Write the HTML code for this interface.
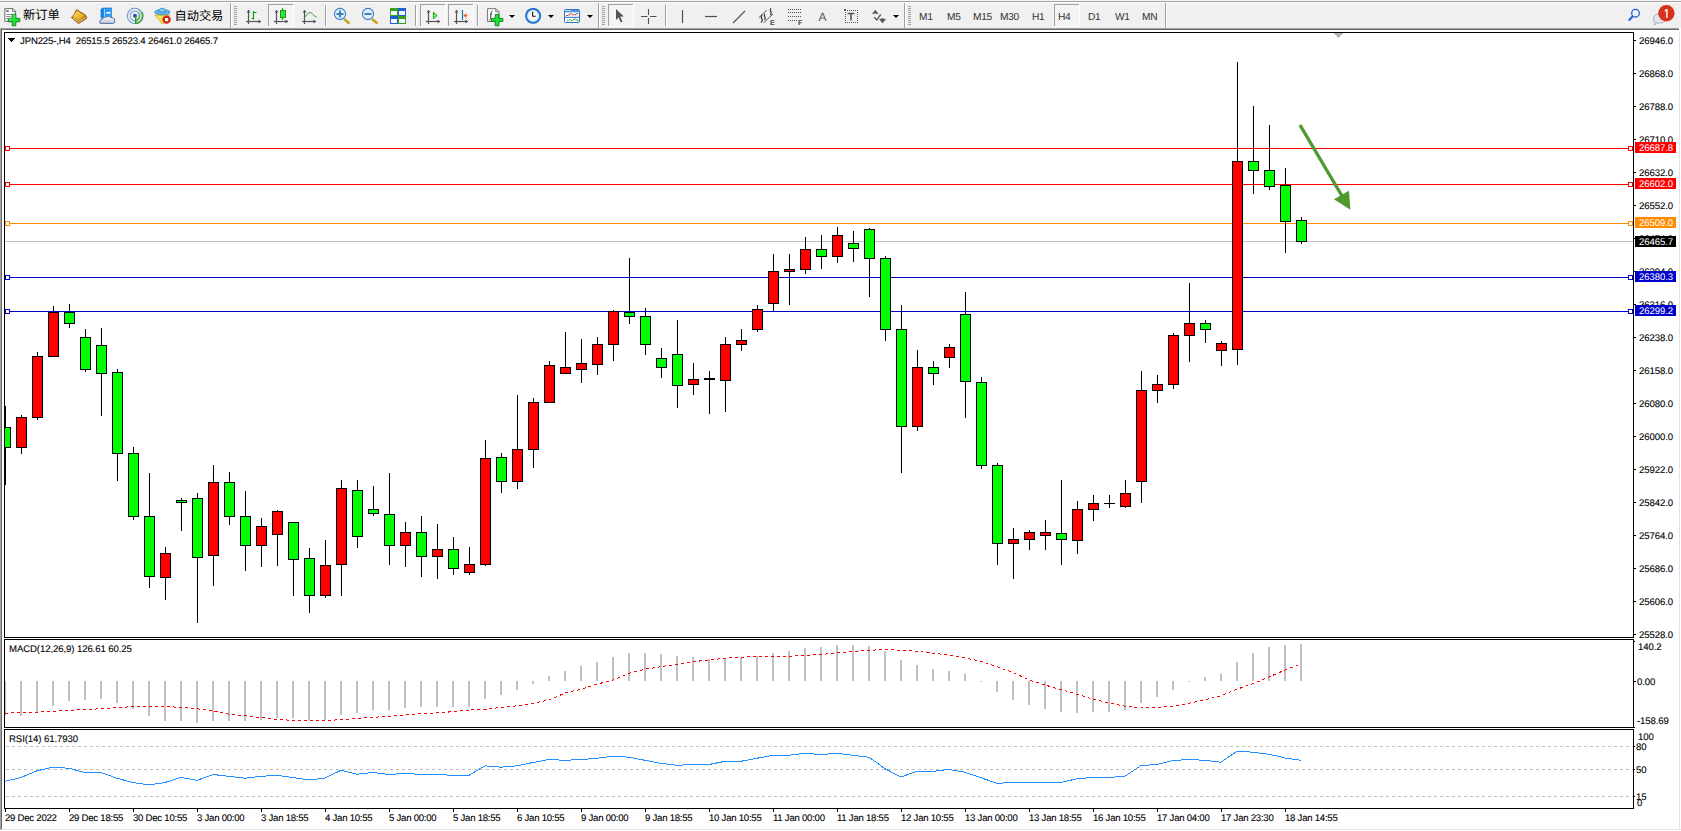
<!DOCTYPE html>
<html><head><meta charset="utf-8"><title>MT4 JPN225 H4</title>
<style>
html,body{margin:0;padding:0;}
body{width:1681px;height:831px;overflow:hidden;background:#fff;position:relative;font-family:"Liberation Sans", "Noto Sans CJK SC", sans-serif;}
svg{position:absolute;left:0;top:0;display:block;}
svg text{font-family:"Liberation Sans", "Noto Sans CJK SC", sans-serif;font-size:9.6px;letter-spacing:-0.1px;text-rendering:geometricPrecision;}
.dt{letter-spacing:-0.25px;}
.tx text{fill:#000;stroke:#000;stroke-width:0.1px;}
</style></head><body>
<div style="position:absolute;left:0;top:0;width:1681px;height:831px;background:#fff"></div>
<div style="position:absolute;left:0;top:829px;width:1681px;height:1px;background:#e3e3e3"></div>
<div style="position:absolute;left:1679px;top:30px;width:1px;height:800px;background:#e3e3e3"></div>
<svg class="ch" width="1681" height="831" viewBox="0 0 1681 831" shape-rendering="crispEdges"><rect x="4.5" y="32.5" width="1629" height="605" fill="#fff" stroke="#000"/><rect x="4.5" y="639.5" width="1629" height="88" fill="#fff" stroke="#000"/><rect x="4.5" y="729.5" width="1629" height="79" fill="#fff" stroke="#000"/><defs><clipPath id="cm"><rect x="5" y="33" width="1628" height="604"/></clipPath><clipPath id="cd"><rect x="5" y="640" width="1628" height="87"/></clipPath><clipPath id="cr"><rect x="5" y="730" width="1628" height="78"/></clipPath></defs><g clip-path="url(#cm)"><line x1="5" y1="241.5" x2="1633" y2="241.5" stroke="#c0c0c0"/><line x1="5" y1="148.5" x2="1633" y2="148.5" stroke="#ff0000"/><rect x="5.5" y="146.5" width="4" height="4" fill="#fff" stroke="#ff0000"/><rect x="1628.5" y="146.5" width="4" height="4" fill="#fff" stroke="#ff0000"/><line x1="5" y1="184.5" x2="1633" y2="184.5" stroke="#ff0000"/><rect x="5.5" y="182.5" width="4" height="4" fill="#fff" stroke="#ff0000"/><rect x="1628.5" y="182.5" width="4" height="4" fill="#fff" stroke="#ff0000"/><line x1="5" y1="223.5" x2="1633" y2="223.5" stroke="#ff8c00"/><rect x="5.5" y="221.5" width="4" height="4" fill="#fff" stroke="#ff8c00"/><rect x="1628.5" y="221.5" width="4" height="4" fill="#fff" stroke="#ff8c00"/><line x1="5" y1="277.5" x2="1633" y2="277.5" stroke="#0000cd"/><rect x="5.5" y="275.5" width="4" height="4" fill="#fff" stroke="#0000cd"/><rect x="1628.5" y="275.5" width="4" height="4" fill="#fff" stroke="#0000cd"/><line x1="5" y1="311.5" x2="1633" y2="311.5" stroke="#0000cd"/><rect x="5.5" y="309.5" width="4" height="4" fill="#fff" stroke="#0000cd"/><rect x="1628.5" y="309.5" width="4" height="4" fill="#fff" stroke="#0000cd"/><line x1="5.5" y1="406" x2="5.5" y2="485" stroke="#000"/><rect x="0.5" y="427.5" width="10" height="20" fill="#00ff00" stroke="#000"/><line x1="21.5" y1="415" x2="21.5" y2="454" stroke="#000"/><rect x="16.5" y="417.5" width="10" height="30" fill="#ff0000" stroke="#000"/><line x1="37.5" y1="352" x2="37.5" y2="420" stroke="#000"/><rect x="32.5" y="356.5" width="10" height="61" fill="#ff0000" stroke="#000"/><line x1="53.5" y1="306" x2="53.5" y2="357" stroke="#000"/><rect x="48.5" y="312.5" width="10" height="44" fill="#ff0000" stroke="#000"/><line x1="69.5" y1="304" x2="69.5" y2="328" stroke="#000"/><rect x="64.5" y="312.5" width="10" height="11" fill="#00ff00" stroke="#000"/><line x1="85.5" y1="329" x2="85.5" y2="372" stroke="#000"/><rect x="80.5" y="337.5" width="10" height="32" fill="#00ff00" stroke="#000"/><line x1="101.5" y1="328" x2="101.5" y2="416" stroke="#000"/><rect x="96.5" y="345.5" width="10" height="28" fill="#00ff00" stroke="#000"/><line x1="117.5" y1="369" x2="117.5" y2="481" stroke="#000"/><rect x="112.5" y="372.5" width="10" height="81" fill="#00ff00" stroke="#000"/><line x1="133.5" y1="447" x2="133.5" y2="520" stroke="#000"/><rect x="128.5" y="453.5" width="10" height="63" fill="#00ff00" stroke="#000"/><line x1="149.5" y1="473" x2="149.5" y2="588" stroke="#000"/><rect x="144.5" y="516.5" width="10" height="60" fill="#00ff00" stroke="#000"/><line x1="165.5" y1="547" x2="165.5" y2="600" stroke="#000"/><rect x="160.5" y="553.5" width="10" height="24" fill="#ff0000" stroke="#000"/><line x1="181.5" y1="498" x2="181.5" y2="531" stroke="#000"/><rect x="176.5" y="500.5" width="10" height="2" fill="#00ff00" stroke="#000"/><line x1="197.5" y1="493" x2="197.5" y2="623" stroke="#000"/><rect x="192.5" y="498.5" width="10" height="59" fill="#00ff00" stroke="#000"/><line x1="213.5" y1="465" x2="213.5" y2="586" stroke="#000"/><rect x="208.5" y="482.5" width="10" height="73" fill="#ff0000" stroke="#000"/><line x1="229.5" y1="472" x2="229.5" y2="525" stroke="#000"/><rect x="224.5" y="482.5" width="10" height="34" fill="#00ff00" stroke="#000"/><line x1="245.5" y1="491" x2="245.5" y2="571" stroke="#000"/><rect x="240.5" y="516.5" width="10" height="29" fill="#00ff00" stroke="#000"/><line x1="261.5" y1="518" x2="261.5" y2="567" stroke="#000"/><rect x="256.5" y="526.5" width="10" height="19" fill="#ff0000" stroke="#000"/><line x1="277.5" y1="510" x2="277.5" y2="566" stroke="#000"/><rect x="272.5" y="511.5" width="10" height="23" fill="#ff0000" stroke="#000"/><line x1="293.5" y1="522" x2="293.5" y2="596" stroke="#000"/><rect x="288.5" y="522.5" width="10" height="37" fill="#00ff00" stroke="#000"/><line x1="309.5" y1="548" x2="309.5" y2="613" stroke="#000"/><rect x="304.5" y="558.5" width="10" height="37" fill="#00ff00" stroke="#000"/><line x1="325.5" y1="540" x2="325.5" y2="598" stroke="#000"/><rect x="320.5" y="565.5" width="10" height="30" fill="#ff0000" stroke="#000"/><line x1="341.5" y1="480" x2="341.5" y2="596" stroke="#000"/><rect x="336.5" y="488.5" width="10" height="76" fill="#ff0000" stroke="#000"/><line x1="357.5" y1="480" x2="357.5" y2="548" stroke="#000"/><rect x="352.5" y="490.5" width="10" height="46" fill="#00ff00" stroke="#000"/><line x1="373.5" y1="486" x2="373.5" y2="516" stroke="#000"/><rect x="368.5" y="509.5" width="10" height="4" fill="#00ff00" stroke="#000"/><line x1="389.5" y1="473" x2="389.5" y2="565" stroke="#000"/><rect x="384.5" y="514.5" width="10" height="31" fill="#00ff00" stroke="#000"/><line x1="405.5" y1="522" x2="405.5" y2="567" stroke="#000"/><rect x="400.5" y="532.5" width="10" height="13" fill="#ff0000" stroke="#000"/><line x1="421.5" y1="516" x2="421.5" y2="577" stroke="#000"/><rect x="416.5" y="532.5" width="10" height="24" fill="#00ff00" stroke="#000"/><line x1="437.5" y1="524" x2="437.5" y2="579" stroke="#000"/><rect x="432.5" y="549.5" width="10" height="7" fill="#ff0000" stroke="#000"/><line x1="453.5" y1="537" x2="453.5" y2="575" stroke="#000"/><rect x="448.5" y="549.5" width="10" height="19" fill="#00ff00" stroke="#000"/><line x1="469.5" y1="547" x2="469.5" y2="575" stroke="#000"/><rect x="464.5" y="564.5" width="10" height="8" fill="#ff0000" stroke="#000"/><line x1="485.5" y1="440" x2="485.5" y2="566" stroke="#000"/><rect x="480.5" y="458.5" width="10" height="106" fill="#ff0000" stroke="#000"/><line x1="501.5" y1="453" x2="501.5" y2="493" stroke="#000"/><rect x="496.5" y="457.5" width="10" height="24" fill="#00ff00" stroke="#000"/><line x1="517.5" y1="395" x2="517.5" y2="489" stroke="#000"/><rect x="512.5" y="449.5" width="10" height="32" fill="#ff0000" stroke="#000"/><line x1="533.5" y1="398" x2="533.5" y2="468" stroke="#000"/><rect x="528.5" y="402.5" width="10" height="47" fill="#ff0000" stroke="#000"/><line x1="549.5" y1="361" x2="549.5" y2="403" stroke="#000"/><rect x="544.5" y="365.5" width="10" height="37" fill="#ff0000" stroke="#000"/><line x1="565.5" y1="332" x2="565.5" y2="374" stroke="#000"/><rect x="560.5" y="367.5" width="10" height="6" fill="#ff0000" stroke="#000"/><line x1="581.5" y1="339" x2="581.5" y2="383" stroke="#000"/><rect x="576.5" y="363.5" width="10" height="6" fill="#ff0000" stroke="#000"/><line x1="597.5" y1="337" x2="597.5" y2="375" stroke="#000"/><rect x="592.5" y="344.5" width="10" height="20" fill="#ff0000" stroke="#000"/><line x1="613.5" y1="310" x2="613.5" y2="361" stroke="#000"/><rect x="608.5" y="311.5" width="10" height="33" fill="#ff0000" stroke="#000"/><line x1="629.5" y1="258" x2="629.5" y2="324" stroke="#000"/><rect x="624.5" y="312.5" width="10" height="4" fill="#00ff00" stroke="#000"/><line x1="645.5" y1="308" x2="645.5" y2="355" stroke="#000"/><rect x="640.5" y="316.5" width="10" height="28" fill="#00ff00" stroke="#000"/><line x1="661.5" y1="348" x2="661.5" y2="378" stroke="#000"/><rect x="656.5" y="358.5" width="10" height="9" fill="#00ff00" stroke="#000"/><line x1="677.5" y1="320" x2="677.5" y2="408" stroke="#000"/><rect x="672.5" y="354.5" width="10" height="31" fill="#00ff00" stroke="#000"/><line x1="693.5" y1="363" x2="693.5" y2="395" stroke="#000"/><rect x="688.5" y="379.5" width="10" height="5" fill="#ff0000" stroke="#000"/><line x1="709.5" y1="371" x2="709.5" y2="414" stroke="#000"/><rect x="704.5" y="378.5" width="10" height="1" fill="none" stroke="#000"/><line x1="725.5" y1="337" x2="725.5" y2="412" stroke="#000"/><rect x="720.5" y="344.5" width="10" height="36" fill="#ff0000" stroke="#000"/><line x1="741.5" y1="329" x2="741.5" y2="351" stroke="#000"/><rect x="736.5" y="340.5" width="10" height="4" fill="#ff0000" stroke="#000"/><line x1="757.5" y1="305" x2="757.5" y2="332" stroke="#000"/><rect x="752.5" y="309.5" width="10" height="20" fill="#ff0000" stroke="#000"/><line x1="773.5" y1="254" x2="773.5" y2="311" stroke="#000"/><rect x="768.5" y="271.5" width="10" height="32" fill="#ff0000" stroke="#000"/><line x1="789.5" y1="254" x2="789.5" y2="305" stroke="#000"/><rect x="784.5" y="269.5" width="10" height="2" fill="#ff0000" stroke="#000"/><line x1="805.5" y1="237" x2="805.5" y2="274" stroke="#000"/><rect x="800.5" y="249.5" width="10" height="20" fill="#ff0000" stroke="#000"/><line x1="821.5" y1="235" x2="821.5" y2="269" stroke="#000"/><rect x="816.5" y="249.5" width="10" height="7" fill="#00ff00" stroke="#000"/><line x1="837.5" y1="227" x2="837.5" y2="263" stroke="#000"/><rect x="832.5" y="235.5" width="10" height="21" fill="#ff0000" stroke="#000"/><line x1="853.5" y1="231" x2="853.5" y2="262" stroke="#000"/><rect x="848.5" y="243.5" width="10" height="5" fill="#00ff00" stroke="#000"/><line x1="869.5" y1="228" x2="869.5" y2="297" stroke="#000"/><rect x="864.5" y="229.5" width="10" height="29" fill="#00ff00" stroke="#000"/><line x1="885.5" y1="256" x2="885.5" y2="341" stroke="#000"/><rect x="880.5" y="258.5" width="10" height="71" fill="#00ff00" stroke="#000"/><line x1="901.5" y1="305" x2="901.5" y2="473" stroke="#000"/><rect x="896.5" y="329.5" width="10" height="97" fill="#00ff00" stroke="#000"/><line x1="917.5" y1="350" x2="917.5" y2="431" stroke="#000"/><rect x="912.5" y="367.5" width="10" height="59" fill="#ff0000" stroke="#000"/><line x1="933.5" y1="361" x2="933.5" y2="385" stroke="#000"/><rect x="928.5" y="367.5" width="10" height="6" fill="#00ff00" stroke="#000"/><line x1="949.5" y1="344" x2="949.5" y2="368" stroke="#000"/><rect x="944.5" y="347.5" width="10" height="10" fill="#ff0000" stroke="#000"/><line x1="965.5" y1="292" x2="965.5" y2="418" stroke="#000"/><rect x="960.5" y="314.5" width="10" height="67" fill="#00ff00" stroke="#000"/><line x1="981.5" y1="377" x2="981.5" y2="469" stroke="#000"/><rect x="976.5" y="382.5" width="10" height="83" fill="#00ff00" stroke="#000"/><line x1="997.5" y1="463" x2="997.5" y2="565" stroke="#000"/><rect x="992.5" y="465.5" width="10" height="78" fill="#00ff00" stroke="#000"/><line x1="1013.5" y1="528" x2="1013.5" y2="579" stroke="#000"/><rect x="1008.5" y="539.5" width="10" height="4" fill="#ff0000" stroke="#000"/><line x1="1029.5" y1="530" x2="1029.5" y2="550" stroke="#000"/><rect x="1024.5" y="532.5" width="10" height="7" fill="#ff0000" stroke="#000"/><line x1="1045.5" y1="520" x2="1045.5" y2="550" stroke="#000"/><rect x="1040.5" y="532.5" width="10" height="3" fill="#ff0000" stroke="#000"/><line x1="1061.5" y1="480" x2="1061.5" y2="565" stroke="#000"/><rect x="1056.5" y="533.5" width="10" height="6" fill="#00ff00" stroke="#000"/><line x1="1077.5" y1="501" x2="1077.5" y2="554" stroke="#000"/><rect x="1072.5" y="509.5" width="10" height="31" fill="#ff0000" stroke="#000"/><line x1="1093.5" y1="495" x2="1093.5" y2="521" stroke="#000"/><rect x="1088.5" y="503.5" width="10" height="6" fill="#ff0000" stroke="#000"/><line x1="1109.5" y1="495" x2="1109.5" y2="508" stroke="#000"/><line x1="1104" y1="503.5" x2="1115" y2="503.5" stroke="#000"/><line x1="1125.5" y1="480" x2="1125.5" y2="508" stroke="#000"/><rect x="1120.5" y="493.5" width="10" height="13" fill="#ff0000" stroke="#000"/><line x1="1141.5" y1="371" x2="1141.5" y2="503" stroke="#000"/><rect x="1136.5" y="390.5" width="10" height="91" fill="#ff0000" stroke="#000"/><line x1="1157.5" y1="375" x2="1157.5" y2="403" stroke="#000"/><rect x="1152.5" y="384.5" width="10" height="6" fill="#ff0000" stroke="#000"/><line x1="1173.5" y1="333" x2="1173.5" y2="389" stroke="#000"/><rect x="1168.5" y="335.5" width="10" height="49" fill="#ff0000" stroke="#000"/><line x1="1189.5" y1="283" x2="1189.5" y2="362" stroke="#000"/><rect x="1184.5" y="323.5" width="10" height="12" fill="#ff0000" stroke="#000"/><line x1="1205.5" y1="320" x2="1205.5" y2="343" stroke="#000"/><rect x="1200.5" y="323.5" width="10" height="6" fill="#00ff00" stroke="#000"/><line x1="1221.5" y1="341" x2="1221.5" y2="366" stroke="#000"/><rect x="1216.5" y="343.5" width="10" height="7" fill="#ff0000" stroke="#000"/><line x1="1237.5" y1="62" x2="1237.5" y2="365" stroke="#000"/><rect x="1232.5" y="161.5" width="10" height="188" fill="#ff0000" stroke="#000"/><line x1="1253.5" y1="106" x2="1253.5" y2="194" stroke="#000"/><rect x="1248.5" y="161.5" width="10" height="9" fill="#00ff00" stroke="#000"/><line x1="1269.5" y1="125" x2="1269.5" y2="190" stroke="#000"/><rect x="1264.5" y="170.5" width="10" height="16" fill="#00ff00" stroke="#000"/><line x1="1285.5" y1="168" x2="1285.5" y2="253" stroke="#000"/><rect x="1280.5" y="185.5" width="10" height="36" fill="#00ff00" stroke="#000"/><line x1="1301.5" y1="217" x2="1301.5" y2="244" stroke="#000"/><rect x="1296.5" y="220.5" width="10" height="21" fill="#00ff00" stroke="#000"/></g><polygon points="1334,33 1343,33 1338.5,38" fill="#b4b4b4"/><line x1="1300" y1="125" x2="1342" y2="196" stroke="#4f9a2f" stroke-width="3.4" shape-rendering="geometricPrecision"/><polygon points="1333.9,199.2 1349,190.8 1350.4,209.8" fill="#4f9a2f" shape-rendering="geometricPrecision"/><g clip-path="url(#cd)"><rect x="4" y="681" width="2" height="34" fill="#c0c0c0"/><rect x="20" y="681" width="2" height="35" fill="#c0c0c0"/><rect x="36" y="681" width="2" height="31" fill="#c0c0c0"/><rect x="52" y="681" width="2" height="25" fill="#c0c0c0"/><rect x="68" y="681" width="2" height="20" fill="#c0c0c0"/><rect x="84" y="681" width="2" height="19" fill="#c0c0c0"/><rect x="100" y="681" width="2" height="18" fill="#c0c0c0"/><rect x="116" y="681" width="2" height="22" fill="#c0c0c0"/><rect x="132" y="681" width="2" height="28" fill="#c0c0c0"/><rect x="148" y="681" width="2" height="35" fill="#c0c0c0"/><rect x="164" y="681" width="2" height="40" fill="#c0c0c0"/><rect x="180" y="681" width="2" height="40" fill="#c0c0c0"/><rect x="196" y="681" width="2" height="42" fill="#c0c0c0"/><rect x="212" y="681" width="2" height="40" fill="#c0c0c0"/><rect x="228" y="681" width="2" height="40" fill="#c0c0c0"/><rect x="244" y="681" width="2" height="40" fill="#c0c0c0"/><rect x="260" y="681" width="2" height="39" fill="#c0c0c0"/><rect x="276" y="681" width="2" height="37" fill="#c0c0c0"/><rect x="292" y="681" width="2" height="37" fill="#c0c0c0"/><rect x="308" y="681" width="2" height="39" fill="#c0c0c0"/><rect x="324" y="681" width="2" height="39" fill="#c0c0c0"/><rect x="340" y="681" width="2" height="34" fill="#c0c0c0"/><rect x="356" y="681" width="2" height="32" fill="#c0c0c0"/><rect x="372" y="681" width="2" height="29" fill="#c0c0c0"/><rect x="388" y="681" width="2" height="29" fill="#c0c0c0"/><rect x="404" y="681" width="2" height="27" fill="#c0c0c0"/><rect x="420" y="681" width="2" height="26" fill="#c0c0c0"/><rect x="436" y="681" width="2" height="26" fill="#c0c0c0"/><rect x="452" y="681" width="2" height="26" fill="#c0c0c0"/><rect x="468" y="681" width="2" height="26" fill="#c0c0c0"/><rect x="484" y="681" width="2" height="18" fill="#c0c0c0"/><rect x="500" y="681" width="2" height="14" fill="#c0c0c0"/><rect x="516" y="681" width="2" height="9" fill="#c0c0c0"/><rect x="532" y="681" width="2" height="3" fill="#c0c0c0"/><rect x="548" y="676" width="2" height="5" fill="#c0c0c0"/><rect x="564" y="671" width="2" height="10" fill="#c0c0c0"/><rect x="580" y="666" width="2" height="15" fill="#c0c0c0"/><rect x="596" y="662" width="2" height="19" fill="#c0c0c0"/><rect x="612" y="657" width="2" height="24" fill="#c0c0c0"/><rect x="628" y="653" width="2" height="28" fill="#c0c0c0"/><rect x="644" y="653" width="2" height="28" fill="#c0c0c0"/><rect x="660" y="654" width="2" height="27" fill="#c0c0c0"/><rect x="676" y="656" width="2" height="25" fill="#c0c0c0"/><rect x="692" y="657" width="2" height="24" fill="#c0c0c0"/><rect x="708" y="659" width="2" height="22" fill="#c0c0c0"/><rect x="724" y="658" width="2" height="23" fill="#c0c0c0"/><rect x="740" y="658" width="2" height="23" fill="#c0c0c0"/><rect x="756" y="656" width="2" height="25" fill="#c0c0c0"/><rect x="772" y="653" width="2" height="28" fill="#c0c0c0"/><rect x="788" y="651" width="2" height="30" fill="#c0c0c0"/><rect x="804" y="648" width="2" height="33" fill="#c0c0c0"/><rect x="820" y="647" width="2" height="34" fill="#c0c0c0"/><rect x="836" y="645" width="2" height="36" fill="#c0c0c0"/><rect x="852" y="645" width="2" height="36" fill="#c0c0c0"/><rect x="868" y="646" width="2" height="35" fill="#c0c0c0"/><rect x="884" y="651" width="2" height="30" fill="#c0c0c0"/><rect x="900" y="660" width="2" height="21" fill="#c0c0c0"/><rect x="916" y="665" width="2" height="16" fill="#c0c0c0"/><rect x="932" y="669" width="2" height="12" fill="#c0c0c0"/><rect x="948" y="671" width="2" height="10" fill="#c0c0c0"/><rect x="964" y="674" width="2" height="7" fill="#c0c0c0"/><rect x="980" y="681" width="2" height="1" fill="#c0c0c0"/><rect x="996" y="681" width="2" height="11" fill="#c0c0c0"/><rect x="1012" y="681" width="2" height="19" fill="#c0c0c0"/><rect x="1028" y="681" width="2" height="24" fill="#c0c0c0"/><rect x="1044" y="681" width="2" height="28" fill="#c0c0c0"/><rect x="1060" y="681" width="2" height="31" fill="#c0c0c0"/><rect x="1076" y="681" width="2" height="32" fill="#c0c0c0"/><rect x="1092" y="681" width="2" height="31" fill="#c0c0c0"/><rect x="1108" y="681" width="2" height="31" fill="#c0c0c0"/><rect x="1124" y="681" width="2" height="29" fill="#c0c0c0"/><rect x="1140" y="681" width="2" height="22" fill="#c0c0c0"/><rect x="1156" y="681" width="2" height="16" fill="#c0c0c0"/><rect x="1172" y="681" width="2" height="9" fill="#c0c0c0"/><rect x="1188" y="681" width="2" height="1" fill="#c0c0c0"/><rect x="1204" y="677" width="2" height="4" fill="#c0c0c0"/><rect x="1220" y="674" width="2" height="7" fill="#c0c0c0"/><rect x="1236" y="662" width="2" height="19" fill="#c0c0c0"/><rect x="1252" y="653" width="2" height="28" fill="#c0c0c0"/><rect x="1268" y="647" width="2" height="34" fill="#c0c0c0"/><rect x="1284" y="645" width="2" height="36" fill="#c0c0c0"/><rect x="1300" y="644" width="2" height="37" fill="#c0c0c0"/><polyline points="5,713.3 21,712.5 37,712.2 53,711.3 69,710.3 85,709.7 101,708.7 117,707.5 133,706.7 149,706.3 165,706.3 181,707.5 197,708.7 213,710.8 229,714.2 245,715.8 261,717.5 277,719.5 293,720.3 309,720.5 325,720.5 341,719.7 357,718.3 373,717.3 389,716.3 405,715 421,713.8 437,712.8 453,711.7 469,710 485,709.2 501,707.5 517,705.8 533,703.3 549,700 565,693 581,689.2 597,684.2 613,680 629,673.3 645,669.2 661,666.7 677,664.2 693,661.7 709,660 725,658.3 741,657.2 757,656.3 773,656.3 789,656.3 805,655.5 821,654.5 837,653 853,651.7 869,650.3 885,649.5 901,650.3 917,651.3 933,653.3 949,655 965,658 981,661.3 997,666.7 1013,672.5 1029,680 1045,685 1061,689.7 1077,694.2 1093,699.2 1109,703 1125,706.3 1141,708 1157,707.5 1173,706.3 1189,703.3 1205,699.7 1221,695.8 1237,689.2 1253,683.7 1269,677 1285,670 1301,664" fill="none" stroke="#ff0000" stroke-width="1" stroke-dasharray="3 3" shape-rendering="crispEdges"/></g><g clip-path="url(#cr)"><line x1="6" y1="746.5" x2="1633" y2="746.5" stroke="#c0c0c0" stroke-dasharray="3 3"/><line x1="6" y1="769.5" x2="1633" y2="769.5" stroke="#c0c0c0" stroke-dasharray="3 3"/><line x1="6" y1="796.5" x2="1633" y2="796.5" stroke="#c0c0c0" stroke-dasharray="3 3"/><polyline points="5,781.3 21,777.5 37,770.8 53,767.2 69,768.3 85,772.5 101,772.5 117,778.3 133,782.5 149,785 165,782.5 181,777.5 197,780.3 213,774.5 229,776.3 245,778.3 261,776.3 277,775.3 293,777.5 309,780 325,778 341,770.3 357,774.2 373,772.5 389,774.5 405,773.3 421,774.5 437,774.5 453,775.3 469,775.3 485,765.8 501,767.2 517,765.8 533,762.5 549,759.5 565,760.3 581,759.5 597,758.3 613,756.3 629,757.2 645,760.3 661,763.3 677,765.3 693,764.5 709,764.5 725,761.3 741,761.3 757,758.3 773,755.3 789,755.3 805,753.3 821,754.5 837,753.3 853,755.3 869,757.2 885,768.7 901,777 917,771.3 933,771.3 949,769.5 965,772.2 981,777.8 997,783.3 1013,782.5 1029,782.5 1045,782.5 1061,782.5 1077,778.7 1093,777.5 1109,777.5 1125,776.2 1141,765.5 1157,764.5 1173,760.5 1189,759.5 1205,760.3 1221,762.2 1237,751.3 1253,752.2 1269,754.2 1285,758 1301,760.3" fill="none" stroke="#1e90ff" stroke-width="1" shape-rendering="crispEdges"/></g><rect x="1634" y="40" width="2" height="1" fill="#000"/><rect x="1634" y="73" width="2" height="1" fill="#000"/><rect x="1634" y="106" width="2" height="1" fill="#000"/><rect x="1634" y="139" width="2" height="1" fill="#000"/><rect x="1634" y="172" width="2" height="1" fill="#000"/><rect x="1634" y="205" width="2" height="1" fill="#000"/><rect x="1634" y="238" width="2" height="1" fill="#000"/><rect x="1634" y="271" width="2" height="1" fill="#000"/><rect x="1634" y="304" width="2" height="1" fill="#000"/><rect x="1634" y="337" width="2" height="1" fill="#000"/><rect x="1634" y="370" width="2" height="1" fill="#000"/><rect x="1634" y="403" width="2" height="1" fill="#000"/><rect x="1634" y="436" width="2" height="1" fill="#000"/><rect x="1634" y="469" width="2" height="1" fill="#000"/><rect x="1634" y="502" width="2" height="1" fill="#000"/><rect x="1634" y="535" width="2" height="1" fill="#000"/><rect x="1634" y="568" width="2" height="1" fill="#000"/><rect x="1634" y="601" width="2" height="1" fill="#000"/><rect x="1634" y="634" width="2" height="1" fill="#000"/><rect x="1634" y="641" width="1" height="1" fill="#000"/><rect x="1634" y="681" width="2" height="1" fill="#000"/><rect x="1634" y="727" width="1" height="1" fill="#000"/><rect x="1634" y="746" width="1" height="1" fill="#000"/><rect x="1634" y="769" width="1" height="1" fill="#000"/><rect x="1634" y="796" width="1" height="1" fill="#000"/><rect x="5" y="809" width="1" height="3" fill="#000"/><rect x="69" y="809" width="1" height="3" fill="#000"/><rect x="133" y="809" width="1" height="3" fill="#000"/><rect x="197" y="809" width="1" height="3" fill="#000"/><rect x="261" y="809" width="1" height="3" fill="#000"/><rect x="325" y="809" width="1" height="3" fill="#000"/><rect x="389" y="809" width="1" height="3" fill="#000"/><rect x="453" y="809" width="1" height="3" fill="#000"/><rect x="517" y="809" width="1" height="3" fill="#000"/><rect x="581" y="809" width="1" height="3" fill="#000"/><rect x="645" y="809" width="1" height="3" fill="#000"/><rect x="709" y="809" width="1" height="3" fill="#000"/><rect x="773" y="809" width="1" height="3" fill="#000"/><rect x="837" y="809" width="1" height="3" fill="#000"/><rect x="901" y="809" width="1" height="3" fill="#000"/><rect x="965" y="809" width="1" height="3" fill="#000"/><rect x="1029" y="809" width="1" height="3" fill="#000"/><rect x="1093" y="809" width="1" height="3" fill="#000"/><rect x="1157" y="809" width="1" height="3" fill="#000"/><rect x="1221" y="809" width="1" height="3" fill="#000"/><rect x="1285" y="809" width="1" height="3" fill="#000"/><polygon points="8,38 15,38 11.5,42.5" fill="#000"/><g class="tx"><text x="1639" y="44">26946.0</text><text x="1639" y="77">26868.0</text><text x="1639" y="110">26788.0</text><text x="1639" y="143">26710.0</text><text x="1639" y="176">26632.0</text><text x="1639" y="209">26552.0</text><text x="1639" y="242">26474.0</text><text x="1639" y="275">26394.0</text><text x="1639" y="308">26316.0</text><text x="1639" y="341">26238.0</text><text x="1639" y="374">26158.0</text><text x="1639" y="407">26080.0</text><text x="1639" y="440">26000.0</text><text x="1639" y="473">25922.0</text><text x="1639" y="506">25842.0</text><text x="1639" y="539">25764.0</text><text x="1639" y="572">25686.0</text><text x="1639" y="605">25606.0</text><text x="1639" y="638">25528.0</text><text x="1638" y="650">140.2</text><text x="1637" y="685">0.00</text><text x="1637" y="724">-158.69</text><text x="1638" y="740">100</text><text x="1636" y="750">80</text><text x="1636" y="773">50</text><text x="1636" y="800">15</text><text x="1637" y="806">0</text><text class="dt" x="5" y="821">29 Dec 2022</text><text class="dt" x="69" y="821">29 Dec 18:55</text><text class="dt" x="133" y="821">30 Dec 10:55</text><text class="dt" x="197" y="821">3 Jan 00:00</text><text class="dt" x="261" y="821">3 Jan 18:55</text><text class="dt" x="325" y="821">4 Jan 10:55</text><text class="dt" x="389" y="821">5 Jan 00:00</text><text class="dt" x="453" y="821">5 Jan 18:55</text><text class="dt" x="517" y="821">6 Jan 10:55</text><text class="dt" x="581" y="821">9 Jan 00:00</text><text class="dt" x="645" y="821">9 Jan 18:55</text><text class="dt" x="709" y="821">10 Jan 10:55</text><text class="dt" x="773" y="821">11 Jan 00:00</text><text class="dt" x="837" y="821">11 Jan 18:55</text><text class="dt" x="901" y="821">12 Jan 10:55</text><text class="dt" x="965" y="821">13 Jan 00:00</text><text class="dt" x="1029" y="821">13 Jan 18:55</text><text class="dt" x="1093" y="821">16 Jan 10:55</text><text class="dt" x="1157" y="821">17 Jan 04:00</text><text class="dt" x="1221" y="821">17 Jan 23:30</text><text class="dt" x="1285" y="821">18 Jan 14:55</text><text x="20" y="44" style="letter-spacing:-0.15px">JPN225-,H4&#160; 26515.5 26523.4 26461.0 26465.7</text><text x="9" y="652">MACD(12,26,9) 126.61 60.25</text><text x="9" y="742">RSI(14) 61.7930</text></g><rect x="1635" y="142" width="41" height="11" fill="#ff0000"/><text x="1639" y="150.5" fill="#fff">26687.8</text><rect x="1635" y="178" width="41" height="11" fill="#ff0000"/><text x="1639" y="186.5" fill="#fff">26602.0</text><rect x="1635" y="217" width="41" height="11" fill="#ff8c00"/><text x="1639" y="225.5" fill="#fff">26509.0</text><rect x="1635" y="236" width="41" height="11" fill="#000000"/><text x="1639" y="244.5" fill="#fff">26465.7</text><rect x="1635" y="271" width="41" height="11" fill="#0000cd"/><text x="1639" y="279.5" fill="#fff">26380.3</text><rect x="1635" y="305" width="41" height="11" fill="#0000cd"/><text x="1639" y="313.5" fill="#fff">26299.2</text></svg>
<svg width="1681" height="32" viewBox="0 0 1681 32"><defs><pattern id="chk" x="0" y="0" width="2" height="2" patternUnits="userSpaceOnUse"><rect width="2" height="2" fill="#fbfbfb"/><rect width="1" height="1" fill="#ececec"/><rect x="1" y="1" width="1" height="1" fill="#ececec"/></pattern></defs><rect x="0" y="0" width="1681" height="28" fill="#f0f0f0"/><rect x="0" y="0" width="1681" height="1" fill="#f6f6f6"/><rect x="0" y="1" width="1681" height="1" fill="#a0a0a0"/><rect x="0" y="2" width="1681" height="1" fill="#ffffff"/><rect x="0" y="28" width="1681" height="1" fill="#a2a2a2"/><rect x="0" y="29" width="1681" height="1" fill="#6a6a6a"/><rect x="0" y="30" width="1681" height="2" fill="#ffffff"/><path d="M4.8,8.6 h8.2 l2.6,2.6 v10.2 h-10.8 z" fill="#fff" stroke="#6e6e6e" stroke-width="1"/><path d="M12.6,8.8 v2.8 h2.8" fill="none" stroke="#6e6e6e" stroke-width="0.9"/><rect x="6" y="10.2" width="2.8" height="1.6" fill="#707070"/><path d="M6,14.5h6M6,16.5h5M6,18.5h2" stroke="#8a8a8a" stroke-width="0.9"/><path d="M12.2,14.3 h3.6 v4.1 h4 v3.4 h-4 v4 h-3.6 v-4 h-4 v-3.4 h4 z" fill="#1ee23a" stroke="#0b7a12" stroke-width="0.9"/><path d="M13.2,15.3 h1.6 v3 M9.2,19.3 h3" fill="none" stroke="#8af59a" stroke-width="0.8"/><text x="23" y="18.6" style="font-family:'Liberation Sans', 'Noto Sans CJK SC', 'WenQuanYi Zen Hei', sans-serif;font-size:12.3px" fill="#000">新订单</text><defs><linearGradient id="gg" x1="0" y1="0" x2="1" y2="1"><stop offset="0" stop-color="#fbe264"/><stop offset="1" stop-color="#d99a0c"/></linearGradient><linearGradient id="cl" x1="0" y1="0" x2="0" y2="1"><stop offset="0" stop-color="#ffffff"/><stop offset="1" stop-color="#b9c4dc"/></linearGradient><linearGradient id="bb" x1="0" y1="0" x2="1" y2="0"><stop offset="0" stop-color="#0a84e8"/><stop offset="1" stop-color="#39a8ff"/></linearGradient></defs><path d="M76.5,9.5 L85.5,15 L87,18.2 L78.5,23.6 L71.3,17.6 L74.2,14.2 Z" fill="#b27414" stroke="#8a5608" stroke-width="0.7"/><path d="M77,10.8 L84.6,15.6 L78.6,20.6 L72.6,16.6 L75,13.8 Z" fill="url(#gg)"/><path d="M73,18 L78.5,21.8 L85.8,17.2" fill="none" stroke="#f5dc9a" stroke-width="0.9"/><path d="M101,9 L103.5,8 L111.5,8 L111.5,18 L101,18 Z" fill="url(#bb)" stroke="#0b6cc8" stroke-width="0.6"/><path d="M104.5,9 L104.5,18" stroke="#bfe4ff" stroke-width="0.8"/><rect x="106" y="12" width="4.5" height="1.6" fill="#e8f6ff"/><path d="M100.2,23.3 Q98.6,19.6 102.4,19.3 Q103.2,16.4 106.6,16.9 Q108.6,15.2 111,17.6 Q115.6,17.6 114.6,21.6 Q114.8,23.5 112.5,23.5 Z" fill="url(#cl)" stroke="#4a6494" stroke-width="0.9"/><path d="M135.3,16 L135.3,23.8 A7.8,7.8 0 0 0 142.9,15 A7.8,7.8 0 0 0 139,9 Z" fill="#c9e6c0" opacity="0.9"/><circle cx="134.9" cy="15.9" r="7.6" fill="none" stroke="#6f95d8" stroke-width="1.1"/><path d="M135.3,23.5 A7.6,7.6 0 0 0 141.8,12" fill="none" stroke="#3a9a3a" stroke-width="1.2"/><circle cx="134.9" cy="15.9" r="4.8" fill="none" stroke="#7fa4dc" stroke-width="1.1"/><path d="M135.3,20.7 A4.8,4.8 0 0 0 139.4,14.5" fill="none" stroke="#56aa56" stroke-width="1.1"/><circle cx="134.9" cy="15.7" r="1.9" fill="#1f4fc8"/><path d="M135.7,16 v8" fill="none" stroke="#16a316" stroke-width="1.4"/><path d="M154.8,15 L169.5,15 L168,19 L162.5,24 Z" fill="#f7df50" stroke="#c8a018" stroke-width="0.7"/><ellipse cx="162.3" cy="12.2" rx="7.6" ry="2.7" fill="#68b8e8" stroke="#2a86b8" stroke-width="0.8"/><path d="M158.4,12 Q158.6,8.2 162.2,8.2 Q165.6,8.2 165.8,12 Z" fill="#86cdf4" stroke="#2a86b8" stroke-width="0.8"/><circle cx="166.6" cy="19.6" r="4.2" fill="#d42a10"/><rect x="165" y="18" width="3.2" height="3.2" fill="#fff"/><text x="174.5" y="19.6" style="font-family:'Liberation Sans', 'Noto Sans CJK SC', 'WenQuanYi Zen Hei', sans-serif;font-size:12.3px" fill="#000">自动交易</text><rect x="230" y="3" width="1" height="25" fill="#a0a0a0"/><rect x="231" y="3" width="1" height="25" fill="#fff"/><rect x="234" y="6" width="3" height="1" fill="#a0a0a0"/><rect x="234" y="8" width="3" height="1" fill="#a0a0a0"/><rect x="234" y="10" width="3" height="1" fill="#a0a0a0"/><rect x="234" y="12" width="3" height="1" fill="#a0a0a0"/><rect x="234" y="14" width="3" height="1" fill="#a0a0a0"/><rect x="234" y="16" width="3" height="1" fill="#a0a0a0"/><rect x="234" y="18" width="3" height="1" fill="#a0a0a0"/><rect x="234" y="20" width="3" height="1" fill="#a0a0a0"/><rect x="234" y="22" width="3" height="1" fill="#a0a0a0"/><rect x="234" y="24" width="3" height="1" fill="#a0a0a0"/><line x1="248.5" y1="10" x2="248.5" y2="24" stroke="#555" stroke-width="1.2"/><line x1="246" y1="21.5" x2="261" y2="21.5" stroke="#555" stroke-width="1.2"/><polygon points="246.5,12.5 248.5,10 250.5,12.5" fill="#555"/><polygon points="258.5,19.5 261,21.5 258.5,23.5" fill="#555"/><path d="M253.5,11 v8.5 M253.5,12.5 h3 M253.5,18.5 h-2" fill="none" stroke="#139b13" stroke-width="1.2"/><rect x="268" y="4" width="25" height="22" fill="url(#chk)"/><rect x="268" y="4" width="25" height="1" fill="#a0a0a0"/><rect x="268" y="4" width="1" height="22" fill="#a0a0a0"/><rect x="268" y="26" width="26" height="1" fill="#fff"/><rect x="293" y="4" width="1" height="23" fill="#fff"/><line x1="276.5" y1="10" x2="276.5" y2="24" stroke="#555" stroke-width="1.2"/><line x1="274" y1="21.5" x2="288" y2="21.5" stroke="#555" stroke-width="1.2"/><polygon points="274.5,12.5 276.5,10 278.5,12.5" fill="#555"/><polygon points="285.5,19.5 288,21.5 285.5,23.5" fill="#555"/><line x1="282.5" y1="8" x2="282.5" y2="20" stroke="#139b13" stroke-width="1.2"/><rect x="280.5" y="10.5" width="5" height="7" fill="#38e038" stroke="#139b13" stroke-width="1"/><line x1="304.5" y1="10" x2="304.5" y2="24" stroke="#555" stroke-width="1.2"/><line x1="302" y1="21.5" x2="316" y2="21.5" stroke="#555" stroke-width="1.2"/><polygon points="302.5,12.5 304.5,10 306.5,12.5" fill="#555"/><polygon points="313.5,19.5 316,21.5 313.5,23.5" fill="#555"/><path d="M304,18.5 Q309,10 312,13.5 T316.5,17" fill="none" stroke="#33a033" stroke-width="1"/><rect x="325" y="5" width="1" height="21" fill="#a0a0a0"/><rect x="326" y="5" width="1" height="21" fill="#fff"/><line x1="344" y1="19" x2="349.5" y2="23.5" stroke="#c8a020" stroke-width="2.6"/><circle cx="340" cy="14" r="5.6" fill="#dff1fc" stroke="#3a7cc8" stroke-width="1.1"/><rect x="336.5" y="13" width="7" height="2" fill="#3a80b8"/><rect x="339" y="10.5" width="2" height="7" fill="#3a80b8"/><line x1="372" y1="19" x2="377.5" y2="23.5" stroke="#c8a020" stroke-width="2.6"/><circle cx="368" cy="14" r="5.6" fill="#dff1fc" stroke="#3a7cc8" stroke-width="1.1"/><rect x="364.5" y="13" width="7" height="2" fill="#3a80b8"/><rect x="390" y="8" width="8" height="8" fill="#3aa01c"/><rect x="391" y="11" width="6" height="4" fill="#f4f8ff"/><rect x="398" y="8" width="8" height="8" fill="#1f5fd0"/><rect x="399" y="11" width="6" height="4" fill="#f4f8ff"/><rect x="390" y="16" width="8" height="8" fill="#1f5fd0"/><rect x="391" y="19" width="6" height="4" fill="#f4f8ff"/><rect x="398" y="16" width="8" height="8" fill="#3aa01c"/><rect x="399" y="19" width="6" height="4" fill="#f4f8ff"/><rect x="415" y="5" width="1" height="21" fill="#a0a0a0"/><rect x="416" y="5" width="1" height="21" fill="#fff"/><rect x="420" y="4" width="25" height="22" fill="url(#chk)"/><rect x="420" y="4" width="25" height="1" fill="#a0a0a0"/><rect x="420" y="4" width="1" height="22" fill="#a0a0a0"/><rect x="420" y="26" width="26" height="1" fill="#fff"/><rect x="445" y="4" width="1" height="23" fill="#fff"/><line x1="428.5" y1="10" x2="428.5" y2="24" stroke="#555" stroke-width="1.2"/><line x1="426" y1="21.5" x2="440" y2="21.5" stroke="#555" stroke-width="1.2"/><polygon points="426.5,12.5 428.5,10 430.5,12.5" fill="#555"/><polygon points="437.5,19.5 440,21.5 437.5,23.5" fill="#555"/><polygon points="433.4,12.3 433.4,18.8 437.2,15.5" fill="#7cf07c" stroke="#0f960f" stroke-width="0.9"/><rect x="448" y="4" width="25" height="22" fill="url(#chk)"/><rect x="448" y="4" width="25" height="1" fill="#a0a0a0"/><rect x="448" y="4" width="1" height="22" fill="#a0a0a0"/><rect x="448" y="26" width="26" height="1" fill="#fff"/><rect x="473" y="4" width="1" height="23" fill="#fff"/><line x1="456.5" y1="10" x2="456.5" y2="24" stroke="#555" stroke-width="1.2"/><line x1="454" y1="21.5" x2="468" y2="21.5" stroke="#555" stroke-width="1.2"/><polygon points="454.5,12.5 456.5,10 458.5,12.5" fill="#555"/><polygon points="465.5,19.5 468,21.5 465.5,23.5" fill="#555"/><line x1="462.5" y1="10" x2="462.5" y2="20" stroke="#1470b0" stroke-width="1.2"/><polygon points="463.5,15.5 467,13 466,15.5 468,15.5 468,16 466,16 467,18.5" fill="#e05010"/><rect x="477" y="5" width="1" height="21" fill="#a0a0a0"/><rect x="478" y="5" width="1" height="21" fill="#fff"/><path d="M487.6,8.7 h8.4 l3,3 v9.8 h-11.4 z" fill="#fff" stroke="#707070" stroke-width="1"/><path d="M495.8,8.9 v3 h3" fill="none" stroke="#707070" stroke-width="0.9"/><path d="M492.6,11.2 q-1.5,0 -1.6,2 l-0.4,5 q-0.1,1.8 -1.3,1.8" fill="none" stroke="#333" stroke-width="0.9"/><path d="M490,14.3 h2.2" stroke="#333" stroke-width="0.8"/><path d="M495.2,14.5 h3.7 v3.9 h4 v3 h-4 v4.4 h-3.7 v-4.4 h-3.9 v-3 h3.9 z" fill="#1ee23a" stroke="#0b7a12" stroke-width="0.9"/><polygon points="509,15 515,15 512,18" fill="#000"/><circle cx="533.1" cy="15.9" r="7.9" fill="#0c5cbc"/><circle cx="533.1" cy="15.9" r="6.9" fill="#2f8ee6"/><circle cx="533.1" cy="15.9" r="5.9" fill="#f6f8fc"/><circle cx="533.10" cy="11.30" r="0.35" fill="#889"/><circle cx="535.40" cy="11.92" r="0.35" fill="#889"/><circle cx="537.08" cy="13.60" r="0.35" fill="#889"/><circle cx="537.70" cy="15.90" r="0.35" fill="#889"/><circle cx="537.08" cy="18.20" r="0.35" fill="#889"/><circle cx="535.40" cy="19.88" r="0.35" fill="#889"/><circle cx="533.10" cy="20.50" r="0.35" fill="#889"/><circle cx="530.80" cy="19.88" r="0.35" fill="#889"/><circle cx="529.12" cy="18.20" r="0.35" fill="#889"/><circle cx="528.50" cy="15.90" r="0.35" fill="#889"/><circle cx="529.12" cy="13.60" r="0.35" fill="#889"/><circle cx="530.80" cy="11.92" r="0.35" fill="#889"/><path d="M532.6,11.8 v4.4 h3.2" fill="none" stroke="#1a1a1a" stroke-width="1.1"/><polygon points="548,15 554,15 551,18" fill="#000"/><rect x="564.5" y="9.5" width="15" height="13" rx="1" fill="#fff" stroke="#2f6fc0"/><rect x="565" y="10" width="14" height="2.4" fill="#5a9ae0"/><rect x="565" y="10.2" width="6" height="0.8" fill="#cfe4fa"/><line x1="565" y1="17.3" x2="579" y2="17.3" stroke="#2f6fc0" stroke-width="1"/><rect x="566.2" y="15" width="1.6" height="1" fill="#9a1c08"/><rect x="568.2" y="14.4" width="1.6" height="1" fill="#9a1c08"/><rect x="570" y="13.3" width="1.6" height="1" fill="#9a1c08"/><rect x="572.2" y="14.2" width="1.6" height="1" fill="#9a1c08"/><rect x="574.5" y="14.2" width="1.6" height="1" fill="#9a1c08"/><rect x="576.3" y="13.3" width="1.6" height="1" fill="#9a1c08"/><rect x="567" y="20.2" width="1.5" height="1" fill="#14a014"/><rect x="569" y="19.4" width="1.5" height="1" fill="#14a014"/><rect x="571" y="20.2" width="1.5" height="1" fill="#14a014"/><rect x="573" y="19.2" width="1.5" height="1" fill="#14a014"/><rect x="574.4" y="18.4" width="1.5" height="1" fill="#14a014"/><rect x="576" y="19.3" width="1.5" height="1" fill="#14a014"/><rect x="577.2" y="20.3" width="1.5" height="1" fill="#14a014"/><polygon points="587,15 593,15 590,18" fill="#000"/><rect x="598" y="3" width="1" height="25" fill="#a0a0a0"/><rect x="599" y="3" width="1" height="25" fill="#fff"/><rect x="602" y="6" width="3" height="1" fill="#a0a0a0"/><rect x="602" y="8" width="3" height="1" fill="#a0a0a0"/><rect x="602" y="10" width="3" height="1" fill="#a0a0a0"/><rect x="602" y="12" width="3" height="1" fill="#a0a0a0"/><rect x="602" y="14" width="3" height="1" fill="#a0a0a0"/><rect x="602" y="16" width="3" height="1" fill="#a0a0a0"/><rect x="602" y="18" width="3" height="1" fill="#a0a0a0"/><rect x="602" y="20" width="3" height="1" fill="#a0a0a0"/><rect x="602" y="22" width="3" height="1" fill="#a0a0a0"/><rect x="602" y="24" width="3" height="1" fill="#a0a0a0"/><rect x="608" y="4" width="25" height="22" fill="url(#chk)"/><rect x="608" y="4" width="25" height="1" fill="#a0a0a0"/><rect x="608" y="4" width="1" height="22" fill="#a0a0a0"/><rect x="608" y="26" width="26" height="1" fill="#fff"/><rect x="633" y="4" width="1" height="23" fill="#fff"/><path d="M616,9 L616,20 L618.5,17.5 L620.8,22.5 L622.5,21.6 L620.2,16.8 L623.8,16.6 Z" fill="#555"/><path d="M641,16.5h6.5M650,16.5h6.5M648.5,9v6M648.5,18v6" stroke="#505050" stroke-width="1.1" fill="none"/><rect x="665" y="5" width="1" height="21" fill="#a0a0a0"/><rect x="666" y="5" width="1" height="21" fill="#fff"/><line x1="682.5" y1="10" x2="682.5" y2="23" stroke="#505050" stroke-width="1.2"/><line x1="705" y1="16.5" x2="717" y2="16.5" stroke="#505050" stroke-width="1.2"/><line x1="733" y1="23" x2="745" y2="11" stroke="#505050" stroke-width="1.1"/><path d="M758.8,17.8 L766.6,10.2 M763.8,22.6 L773,14" stroke="#555" stroke-width="1" fill="none"/><path d="M762,15 q-1.4,1.8 -0.2,3.6 q1,1.8 -0.6,3.9 M765,13.8 q-1.3,1.6 -0.2,3 q0.9,1.4 -0.4,3 M770.8,8.2 q-0.8,2 0,3.4 q0.9,1.6 -0.4,3.4" stroke="#404040" stroke-width="1.3" fill="none"/><text x="770" y="25" style="font-family:'Liberation Sans', 'Noto Sans CJK SC', sans-serif;font-size:7px;font-weight:bold" fill="#444">E</text><rect x="788" y="9" width="1" height="1" fill="#505050"/><rect x="790" y="9" width="1" height="1" fill="#505050"/><rect x="792" y="9" width="1" height="1" fill="#505050"/><rect x="794" y="9" width="1" height="1" fill="#505050"/><rect x="796" y="9" width="1" height="1" fill="#505050"/><rect x="798" y="9" width="1" height="1" fill="#505050"/><rect x="800" y="9" width="1" height="1" fill="#505050"/><rect x="788" y="12" width="1" height="1" fill="#505050"/><rect x="790" y="12" width="1" height="1" fill="#505050"/><rect x="792" y="12" width="1" height="1" fill="#505050"/><rect x="794" y="12" width="1" height="1" fill="#505050"/><rect x="796" y="12" width="1" height="1" fill="#505050"/><rect x="798" y="12" width="1" height="1" fill="#505050"/><rect x="800" y="12" width="1" height="1" fill="#505050"/><rect x="788" y="16" width="1" height="1" fill="#505050"/><rect x="790" y="16" width="1" height="1" fill="#505050"/><rect x="792" y="16" width="1" height="1" fill="#505050"/><rect x="794" y="16" width="1" height="1" fill="#505050"/><rect x="796" y="16" width="1" height="1" fill="#505050"/><rect x="798" y="16" width="1" height="1" fill="#505050"/><rect x="800" y="16" width="1" height="1" fill="#505050"/><rect x="788" y="20" width="1" height="1" fill="#505050"/><rect x="790" y="20" width="1" height="1" fill="#505050"/><rect x="792" y="20" width="1" height="1" fill="#505050"/><rect x="794" y="20" width="1" height="1" fill="#505050"/><rect x="796" y="20" width="1" height="1" fill="#505050"/><text x="798" y="25" style="font-family:'Liberation Sans', 'Noto Sans CJK SC', sans-serif;font-size:7px;font-weight:bold" fill="#444">F</text><text x="818.5" y="21" style="font-family:'Liberation Sans', 'Noto Sans CJK SC', sans-serif;font-size:12px" fill="#555">A</text><rect x="845" y="10" width="1" height="1" fill="#555"/><rect x="845" y="22" width="1" height="1" fill="#555"/><rect x="847" y="10" width="1" height="1" fill="#555"/><rect x="847" y="22" width="1" height="1" fill="#555"/><rect x="849" y="10" width="1" height="1" fill="#555"/><rect x="849" y="22" width="1" height="1" fill="#555"/><rect x="851" y="10" width="1" height="1" fill="#555"/><rect x="851" y="22" width="1" height="1" fill="#555"/><rect x="853" y="10" width="1" height="1" fill="#555"/><rect x="853" y="22" width="1" height="1" fill="#555"/><rect x="855" y="10" width="1" height="1" fill="#555"/><rect x="855" y="22" width="1" height="1" fill="#555"/><rect x="857" y="10" width="1" height="1" fill="#555"/><rect x="857" y="22" width="1" height="1" fill="#555"/><rect x="845" y="10" width="1" height="1" fill="#555"/><rect x="857" y="10" width="1" height="1" fill="#555"/><rect x="845" y="12" width="1" height="1" fill="#555"/><rect x="857" y="12" width="1" height="1" fill="#555"/><rect x="845" y="14" width="1" height="1" fill="#555"/><rect x="857" y="14" width="1" height="1" fill="#555"/><rect x="845" y="16" width="1" height="1" fill="#555"/><rect x="857" y="16" width="1" height="1" fill="#555"/><rect x="845" y="18" width="1" height="1" fill="#555"/><rect x="857" y="18" width="1" height="1" fill="#555"/><rect x="845" y="20" width="1" height="1" fill="#555"/><rect x="857" y="20" width="1" height="1" fill="#555"/><rect x="845" y="22" width="1" height="1" fill="#555"/><rect x="857" y="22" width="1" height="1" fill="#555"/><rect x="844" y="9" width="2" height="2" fill="#555"/><path d="M847.5,13.5 h7 M851,13.5 v7" stroke="#555" stroke-width="1.6" fill="none"/><polygon points="871.8,14.2 875.3,9.8 878.8,14.2 875.3,13.6" fill="#555"/><polygon points="879.2,19.2 882.5,18.3 885.8,19.2 882.5,23.2" fill="#555"/><path d="M874.2,17.2 L876.8,19.9 L880.8,14.4" fill="none" stroke="#555" stroke-width="1.3"/><polygon points="893,15 899,15 896,18" fill="#000"/><rect x="904" y="3" width="1" height="25" fill="#a0a0a0"/><rect x="905" y="3" width="1" height="25" fill="#fff"/><rect x="908" y="6" width="3" height="1" fill="#a0a0a0"/><rect x="908" y="8" width="3" height="1" fill="#a0a0a0"/><rect x="908" y="10" width="3" height="1" fill="#a0a0a0"/><rect x="908" y="12" width="3" height="1" fill="#a0a0a0"/><rect x="908" y="14" width="3" height="1" fill="#a0a0a0"/><rect x="908" y="16" width="3" height="1" fill="#a0a0a0"/><rect x="908" y="18" width="3" height="1" fill="#a0a0a0"/><rect x="908" y="20" width="3" height="1" fill="#a0a0a0"/><rect x="908" y="22" width="3" height="1" fill="#a0a0a0"/><rect x="908" y="24" width="3" height="1" fill="#a0a0a0"/><rect x="1054" y="4" width="25" height="22" fill="url(#chk)"/><rect x="1054" y="4" width="25" height="1" fill="#a0a0a0"/><rect x="1054" y="4" width="1" height="22" fill="#a0a0a0"/><rect x="1054" y="26" width="26" height="1" fill="#fff"/><rect x="1079" y="4" width="1" height="23" fill="#fff"/><text x="919" y="20.4" style="font-family:'Liberation Sans', 'Noto Sans CJK SC', sans-serif;font-size:10.2px;letter-spacing:-0.35px" fill="#333">M1</text><text x="947" y="20.4" style="font-family:'Liberation Sans', 'Noto Sans CJK SC', sans-serif;font-size:10.2px;letter-spacing:-0.35px" fill="#333">M5</text><text x="973" y="20.4" style="font-family:'Liberation Sans', 'Noto Sans CJK SC', sans-serif;font-size:10.2px;letter-spacing:-0.35px" fill="#333">M15</text><text x="1000" y="20.4" style="font-family:'Liberation Sans', 'Noto Sans CJK SC', sans-serif;font-size:10.2px;letter-spacing:-0.35px" fill="#333">M30</text><text x="1032" y="20.4" style="font-family:'Liberation Sans', 'Noto Sans CJK SC', sans-serif;font-size:10.2px;letter-spacing:-0.35px" fill="#333">H1</text><text x="1058" y="20.4" style="font-family:'Liberation Sans', 'Noto Sans CJK SC', sans-serif;font-size:10.2px;letter-spacing:-0.35px" fill="#333">H4</text><text x="1088" y="20.4" style="font-family:'Liberation Sans', 'Noto Sans CJK SC', sans-serif;font-size:10.2px;letter-spacing:-0.35px" fill="#333">D1</text><text x="1115" y="20.4" style="font-family:'Liberation Sans', 'Noto Sans CJK SC', sans-serif;font-size:10.2px;letter-spacing:-0.35px" fill="#333">W1</text><text x="1142" y="20.4" style="font-family:'Liberation Sans', 'Noto Sans CJK SC', sans-serif;font-size:10.2px;letter-spacing:-0.35px" fill="#333">MN</text><rect x="1165" y="3" width="1" height="25" fill="#a0a0a0"/><rect x="1166" y="3" width="1" height="25" fill="#fff"/><circle cx="1635.5" cy="13.2" r="3.8" fill="#f4f6ff" stroke="#2060d0" stroke-width="1.3"/><line x1="1633" y1="16" x2="1628.8" y2="20.5" stroke="#2060d0" stroke-width="2"/><path d="M1653.5,19 q0,-5 6,-5 q6,0 6,5 q0,4 -6,4 l-3,0 l-2,2.2 l0.5,-2.6 q-1.5,-1 -1.5,-3.6z" fill="#e3e5ee" stroke="#9aa0a8" stroke-width="0.8"/><circle cx="1666.4" cy="13.3" r="8.2" fill="#d9301a"/><text x="1663" y="17.6" style="font-family:NanumGothic, sans-serif;font-size:12px;font-weight:bold" fill="#fff">1</text></svg>
<div style="position:absolute;left:0;top:28px;width:1px;height:802px;background:#a2a2a2"></div>
<div style="position:absolute;left:1px;top:29px;width:1px;height:800px;background:#6a6a6a"></div>
<div style="position:absolute;left:1679px;top:28px;width:2px;height:2px;background:#fff"></div>
</body></html>
